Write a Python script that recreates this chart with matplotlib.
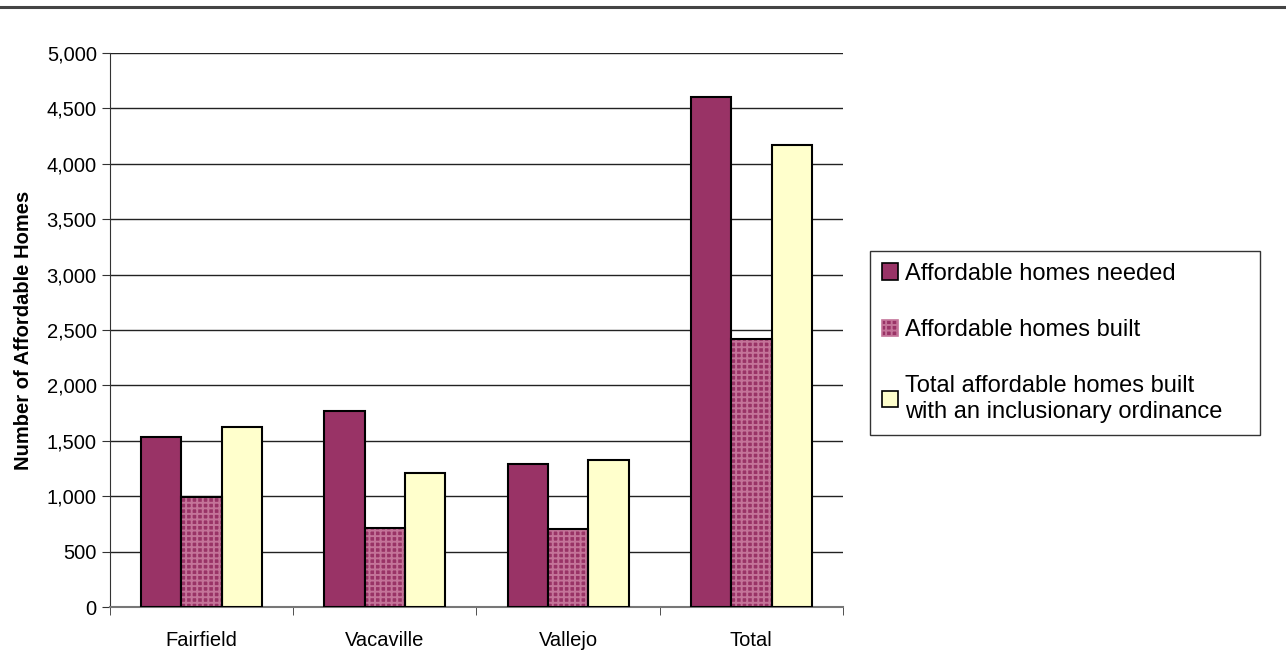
import numpy as np
import matplotlib.pyplot as plt
from matplotlib.patches import Patch
from matplotlib.ticker import FuncFormatter

plt.rcParams['font.family'] = ['Liberation Sans', 'DejaVu Sans']
plt.rcParams['hatch.linewidth'] = 1.4

cities = ['Fairfield', 'Vacaville', 'Vallejo', 'Total']
needed = [1535, 1770, 1290, 4600]
built = [990, 715, 705, 2420]
inclusionary = [1625, 1205, 1330, 4170]

labels = ['Affordable homes needed', 'Affordable homes built',
          'Total affordable homes built\nwith an inclusionary ordinance']

plum = '#993366'
checker = '#c47499'
cream = '#ffffcc'

fig = plt.figure(figsize=(12.86, 6.52), dpi=100)
ax = fig.add_axes([0.0855, 0.069, 0.570, 0.8497])

# top rule across the page
fig.add_artist(plt.Line2D([0, 1], [0.989, 0.989], color='#444444', lw=2.2))

x = np.arange(len(cities))
w = 0.22
ax.bar(x - w, needed, w, color=plum, edgecolor='black', lw=1.5, zorder=3)
ax.bar(x, built, w, color=plum, edgecolor=checker, hatch='+++', lw=0, zorder=3)
ax.bar(x, built, w, color='none', edgecolor='black', lw=1.5, zorder=4)
ax.bar(x + w, inclusionary, w, color=cream, edgecolor='black', lw=1.5, zorder=3)

ax.set_xlim(-0.5, 3.5)
ax.set_ylim(0, 5000)
ax.set_yticks(np.arange(0, 5001, 500))
ax.yaxis.set_major_formatter(FuncFormatter(lambda v, p: f'{int(v):,}'))
ax.set_xticks(x)
ax.set_xticklabels(cities)
ax.set_xticks(np.arange(-0.5, 3.6, 1), minor=True)
ax.tick_params(axis='x', which='major', length=0, pad=17, labelsize=14.5)
ax.tick_params(axis='x', which='minor', length=6, color='#333333', direction='out')
ax.tick_params(axis='y', length=6, labelsize=14.5, color='#333333')
ax.grid(axis='y', color='#222222', lw=1, zorder=0)
for s in ['top', 'right']:
    ax.spines[s].set_visible(False)
ax.spines['left'].set_color('#333333')
ax.spines['bottom'].set_color('#777777')
ax.spines['bottom'].set_linewidth(1.5)

ax.set_ylabel('Number of Affordable Homes', fontsize=14.5, fontweight='bold', labelpad=10)

handles = [Patch(facecolor=plum, edgecolor='black', lw=1.2),
           Patch(facecolor=plum, edgecolor=checker, hatch='+++', lw=1.2),
           Patch(facecolor=cream, edgecolor='black', lw=1.2)]
leg = fig.legend(handles, labels, loc='upper left',
                 bbox_to_anchor=(0.6765, 0.385, 0.3033, 0.23), mode='expand',
                 borderaxespad=0, fontsize=17, frameon=True, fancybox=False,
                 edgecolor='black', handlelength=0.7, handleheight=0.7,
                 handletextpad=0.3, labelspacing=1.45, borderpad=0.5)
leg.get_frame().set_linewidth(1.0)

fig.savefig('out.png', dpi=100)
